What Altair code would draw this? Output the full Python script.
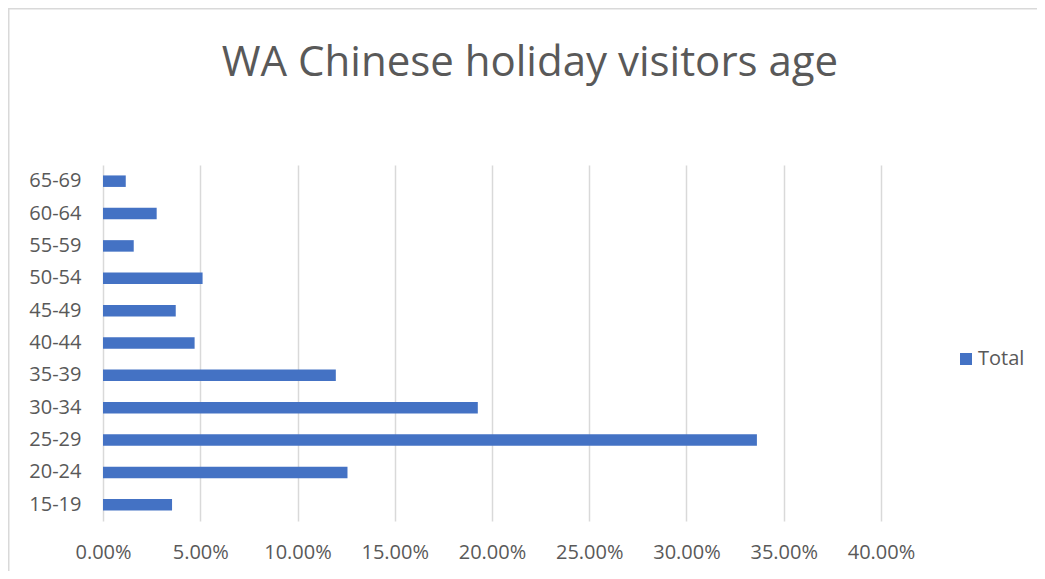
import altair as alt
import pandas as pd

ages = ["15-19", "20-24", "25-29", "30-34", "35-39", "40-44",
        "45-49", "50-54", "55-59", "60-64", "65-69"]
shares = [0.0355, 0.1257, 0.3362, 0.1927, 0.1197, 0.0471,
          0.0374, 0.0512, 0.0158, 0.0276, 0.0117]
series = ["Total"] * len(ages)
x_ticks = [0.0, 0.05, 0.10, 0.15, 0.20, 0.25, 0.30, 0.35, 0.40]

df = pd.DataFrame({"age": ages, "share": shares, "series": series})

W, H = 778, 356
PL, PT, PR, PB = 95, 157, 156, 50
GREY = "#595959"
FONT = "Open Sans"

bars = alt.Chart(df).mark_bar(color="#4472C4", height=11.5).encode(
    x=alt.X("share:Q",
            scale=alt.Scale(domain=[0, 0.4], nice=False),
            axis=alt.Axis(format=".2%", values=x_ticks,
                          title=None, grid=True, gridColor="#d9d9d9", gridWidth=1.5,
                          domain=False, ticks=False, labelPadding=21,
                          labelBound=False, labelFlush=False, labelOverlap=False,
                          labelFontSize=20, labelColor=GREY, labelFont=FONT)),
    y=alt.Y("age:N", sort=list(reversed(ages)),
            axis=alt.Axis(title=None, domain=False, ticks=False, labelPadding=22,
                          labelFontSize=20, labelColor=GREY, labelFont=FONT)),
    color=alt.Color("series:N",
                    scale=alt.Scale(range=["#4472C4"]),
                    legend=alt.Legend(title=None, orient="none", legendX=853, legendY=184,
                                      symbolType="square", symbolSize=144,
                                      symbolStrokeWidth=0, labelOffset=2,
                                      labelFontSize=20, labelColor=GREY, labelFont=FONT)),
)

border = alt.Chart(pd.DataFrame({"a": [0]})).mark_rect(
    fill=None, stroke="#d9d9d9", strokeWidth=1.5
).encode(
    x=alt.value(-PL + 0.75), x2=alt.value(W + PR + 20),
    y=alt.value(-PT + 0.75), y2=alt.value(H + PB + 20),
)

chart = alt.layer(border, bars).properties(
    width=W, height=H,
    padding={"left": PL, "top": PT, "right": PR, "bottom": PB},
    autosize=alt.AutoSizeParams(type="none"),
    title=alt.Title("WA Chinese holiday visitors age", fontSize=42, font=FONT,
                    fontWeight="normal", color=GREY, anchor="middle",
                    frame="group", dx=38, offset=0, dy=110, baseline="alphabetic"),
).configure_view(stroke=None)

chart.save("out.html", embed_options={"renderer": "svg", "actions": False})
